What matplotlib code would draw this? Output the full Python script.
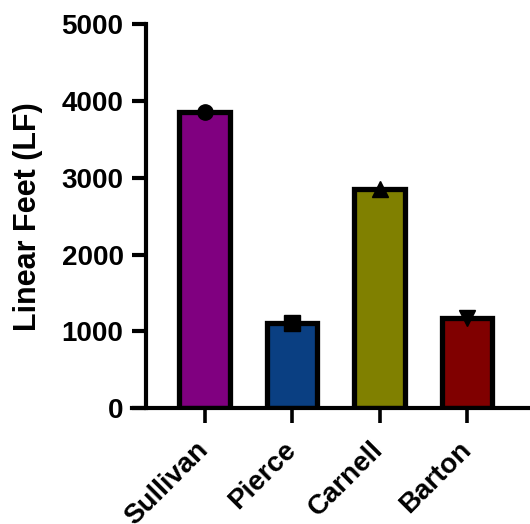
import matplotlib.pyplot as plt

# Data
sites = ['Sullivan', 'Pierce', 'Carnell', 'Barton']
linear_feet = [3850, 1110, 2850, 1180]
bar_colors = ['#800080', '#0A3F82', '#808000', '#800000']
markers = ['o', 's', '^', 'v']

plt.rcParams['font.family'] = ['Liberation Sans', 'DejaVu Sans']
plt.rcParams['font.weight'] = 'bold'

fig = plt.figure(figsize=(5.30, 5.24), dpi=100)
ax = fig.add_axes([0.275, 0.221, 0.725, 0.733])

x = list(range(len(sites)))
ax.bar(x, linear_feet, width=0.58, color=bar_colors, edgecolor='black',
       linewidth=3.8, zorder=2)
for xi, v, m in zip(x, linear_feet, markers):
    ax.plot(xi, v, marker=m, color='black', markersize=11, zorder=3)

ax.set_ylim(0, 5000)
ax.set_xlim(-0.672, 3.72)
ax.set_yticks([0, 1000, 2000, 3000, 4000, 5000])
ax.set_xticks(x)
ax.set_xticklabels(sites, rotation=45, ha='right', va='center',
                   rotation_mode='anchor')
ax.set_ylabel('Linear Feet (LF)', fontsize=22, fontweight='bold', labelpad=13)

for side in ['top', 'right']:
    ax.spines[side].set_visible(False)
for side in ['left', 'bottom']:
    ax.spines[side].set_linewidth(3)
ax.spines['bottom'].set_bounds(-0.83, 3.72)

ax.tick_params(axis='y', length=10, width=3, labelsize=20, pad=6)
ax.tick_params(axis='x', length=11, width=2.6, labelsize=20, pad=16)

fig.savefig('out.png', dpi=100)
